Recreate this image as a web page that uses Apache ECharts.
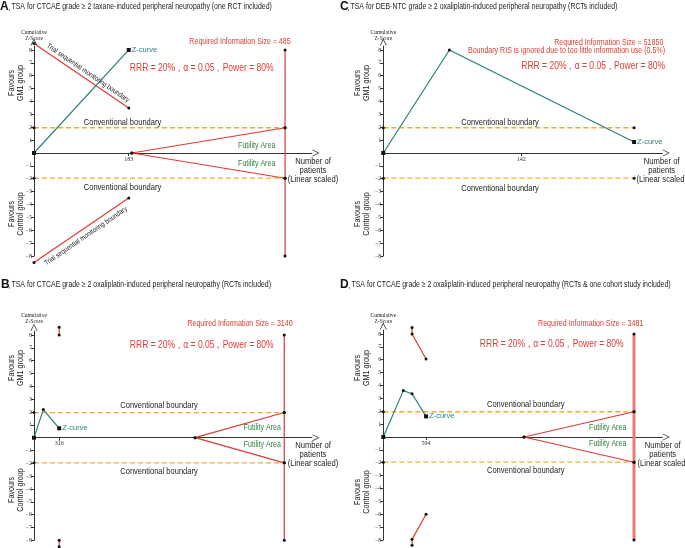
<!DOCTYPE html>
<html><head><meta charset="utf-8">
<script src="https://cdn.jsdelivr.net/npm/echarts@6/dist/echarts.min.js"></script>
<style>html,body{margin:0;padding:0;background:#fff}#c{width:685px;height:548px}</style>
</head><body><div id="c"></div>
<script>
// ---------- data ----------
const CONV = 1.96;
const Y_TICKS = [-8,-7,-6,-5,-4,-3,-2,-1,1,2,3,4,5,6,7,8];
const RIS_TOP = 8, RIS_BOTTOM = -8;

// Panel A
const A_xTick = [183];
const A_zX = [0, 183], A_zY = [0, 8];
const A_upX = [0, 183], A_upY = [8.5, 3.5];
const A_loX = [0, 183], A_loY = [-8.5, -3.5];
const A_ris = 485, A_futStart = 189;

// Panel B
const B_xTick = [316];
const B_zX = [0, 117, 316], B_zY = [0, 2.19, 0.73];
const B_upX = [316, 316], B_upY = [8.6, 8.0];
const B_loX = [316, 316], B_loY = [-8.0, -8.5];
const B_ris = 3140, B_futStart = 2020;

// Panel C
const C_xTick = [142];
const C_zX = [0, 68, 258], C_zY = [0, 8, 0.85];
const C_convEnd = 258;

// Panel D
const D_xTick = [594];
const D_zX = [0, 278, 399, 594], D_zY = [0, 3.6, 3.36, 1.6];
const D_upX = [399, 399, 594], D_upY = [8.5, 8.0, 6.05];
const D_loX = [399, 399, 594], D_loY = [-8.4, -7.95, -6.0];
const D_ris = 3481, D_futStart = 1954;

// ---------- styles ----------
const RED = '#dd3b33', TEAL = '#2b7f7c', ORANGE = '#f5a833', GREEN = '#2e7d3a', AX = '#333';
const SANS = 'Liberation Sans, Arial, sans-serif';
const SERIF = 'Liberation Serif, Times New Roman, serif';
const ARROW = 'path://M5,0 L0,10 L1.2,10 L5,2.2 L8.8,10 L10,10 Z';
const YMIN = -8, YMAX = 8.3;

const grids = [
  {left: 34, top: 46.1, width: 278, height: 209.9, xmax: 537},     // A
  {left: 34, top: 331.2, width: 278, height: 209.1, xmax: 3488},   // B
  {left: 383.3, top: 46.1, width: 279, height: 209.9, xmax: 287},  // C
  {left: 383.3, top: 330.1, width: 279, height: 209.9, xmax: 3874} // D
];
const xTicks = [A_xTick, B_xTick, C_xTick, D_xTick];

const option = {
  animation: false,
  grid: grids.map(g => ({left: g.left, top: g.top, width: g.width, height: g.height, outerBoundsMode: 'none', containLabel: false})),
  xAxis: grids.map((g, i) => ({
    type: 'value', gridIndex: i, min: 0, max: g.xmax, position: 'bottom',
    offset: -(0 - YMIN) / (YMAX - YMIN) * g.height,
    splitLine: {show: false},
    axisLine: {onZero: false, lineStyle: {color: AX, width: 1}, symbol: ['none', ARROW], symbolSize: [7, 7], symbolOffset: [0, 4]},
    axisTick: {show: true, length: 3, customValues: xTicks[i], lineStyle: {color: AX}},
    axisLabel: {show: true, customValues: xTicks[i], fontFamily: SERIF, fontSize: 6, color: AX, margin: 3}
  })),
  yAxis: grids.map((g, i) => ({
    type: 'value', gridIndex: i, min: YMIN, max: YMAX,
    splitLine: {show: false},
    axisLine: {onZero: false, lineStyle: {color: AX, width: 1}, symbol: ['none', ARROW], symbolSize: [7, 7], symbolOffset: [0, 4]},
    axisTick: {show: true, length: 3, customValues: Y_TICKS, lineStyle: {color: AX}},
    axisLabel: {show: true, customValues: Y_TICKS, fontFamily: SERIF, fontSize: 6, color: AX, margin: 2,
      formatter: v => String(v).replace('-', '\u2212')}
  })),
  series: [],
  graphic: []
};

function line(gi, xs, ys, o) {
  o = o || {};
  return {
    type: 'line', xAxisIndex: gi, yAxisIndex: gi, clip: false, silent: true, z: o.z || 3,
    data: xs.map((x, k) => [x, ys[k]]),
    symbol: o.symbol || 'circle', symbolSize: o.size != null ? o.size : 3, showSymbol: true,
    itemStyle: {color: o.markColor || '#111', borderWidth: 0},
    lineStyle: {color: o.color || RED, width: o.width || 1.2, type: o.dash ? [5, 3] : 'solid'}
  };
}
function zcurve(gi, xs, ys) {
  const s = line(gi, xs, ys, {color: TEAL, width: 1.2, symbol: 'circle', size: 3, z: 4});
  const n = xs.length - 1;
  s.data = s.data.map((d, k) => {
    if (k === n) return {value: d, symbol: 'rect', symbolSize: 4,
      label: {show: true, position: 'right', distance: 1, formatter: 'Z-curve', color: TEAL, fontFamily: SANS, fontSize: 7.5}};
    if (k === 0) return {value: d, symbol: 'rect', symbolSize: 4};
    return {value: d};
  });
  return s;
}
function conv(gi, end, o) {
  return [line(gi, [0, end], [CONV, CONV], Object.assign({color: ORANGE, dash: true, width: 1.3}, o || {})),
          line(gi, [0, end], [-CONV, -CONV], Object.assign({color: ORANGE, dash: true, width: 1.3}, o || {}))];
}
function futility(gi, start, ris) {
  return [line(gi, [start, ris], [0, CONV]), line(gi, [start, ris], [0, -CONV])];
}
function risLine(gi, ris, o) {
  return line(gi, [ris, ris], [RIS_TOP, RIS_BOTTOM], o);
}

const S = option.series;
// A
S.push(...conv(0, A_ris), ...futility(0, A_futStart, A_ris), risLine(0, A_ris),
  line(0, A_upX, A_upY), line(0, A_loX, A_loY), zcurve(0, A_zX, A_zY));
// B
S.push(...conv(1, B_ris), ...futility(1, B_futStart, B_ris), risLine(1, B_ris),
  line(1, B_upX, B_upY), line(1, B_loX, B_loY), zcurve(1, B_zX, B_zY));
// C
S.push(...conv(2, C_convEnd), zcurve(2, C_zX, C_zY));
// D
S.push(...conv(3, D_ris), ...futility(3, D_futStart, D_ris), risLine(3, D_ris, {width: 3, color: '#e57a78'}),
  line(3, D_upX, D_upY), line(3, D_loX, D_loY), zcurve(3, D_zX, D_zY));

// ---------- text ----------
const G = option.graphic;
function txt(x, y, text, o) {
  o = o || {};
  G.push({
    type: 'text', x: x, y: y, rotation: o.rot || 0, scaleX: o.sx != null ? o.sx : 0.82, z: 10, silent: true,
    style: {text: text, fill: o.color || '#222', font: (o.bold ? 'bold ' : '') + (o.size || 9) + 'px ' + (o.family || SANS),
      align: o.align || 'center', verticalAlign: o.va || 'middle', lineHeight: o.lh || undefined}
  });
}
const SQ = '\u2265';
const panels = [
  {L: 'A', lx: 0, ty: 7, tx: 11.5, title: 'TSA for CTCAE grade ' + SQ + ' 2 taxane-induced peripheral neuropathy (one RCT included)'},
  {L: 'B', lx: 1, ty: 285, tx: 11.5, title: 'TSA for CTCAE grade ' + SQ + ' 2 oxaliplatin-induced peripheral neuropathy (RCTs included)'},
  {L: 'C', lx: 340, ty: 7, tx: 350.5, title: 'TSA for DEB-NTC grade ' + SQ + ' 2 oxaliplatin-induced peripheral neuropathy (RCTs included)'},
  {L: 'D', lx: 340, ty: 285, tx: 351.5, title: 'TSA for CTCAE grade ' + SQ + ' 2 oxaliplatin-induced peripheral neuropathy (RCTs & one cohort study included)'}
];
panels.forEach(p => {
  txt(p.lx, p.ty, p.L, {align: 'left', bold: true, size: 12, sx: 1, color: '#111'});
  txt(p.tx - 3, p.ty + 1, ',', {align: 'left', size: 8, sx: 1});
  txt(p.tx, p.ty, p.title, {align: 'left', size: 8.6, sx: 0.805, color: '#222'});
});

// per-panel annotations
function common(ox, oy, o) {
  txt(ox, oy + 33, 'Cumulative', {size: 5.5, family: SERIF, sx: 1});
  txt(ox, oy + 38.5, 'Z-Score', {size: 5.5, family: SERIF, sx: 1});
  txt(o.favX, oy + o.gmY, 'Favours\nGM1 group', {rot: Math.PI / 2, size: 9, lh: 9, sx: 0.8});
  txt(o.favX, oy + o.ctY, 'Favours\nControl group', {rot: Math.PI / 2, size: 9, lh: 9, sx: 0.8});
  txt(o.convX, oy + o.convU, 'Conventional boundary', {size: 9.2});
  txt(o.convX, oy + o.convL, 'Conventional boundary', {size: 9.2});
  txt(o.npX, oy + o.npY, 'Number of\npatients\n(Linear scaled)', {size: 9, lh: 8.6, sx: 0.85});
}
// A
common(34, 0, {favX: 16, gmY: 83, ctY: 214, convX: 122.5, convU: 122.7, convL: 187.3, npX: 313, npY: 170.5});
txt(240, 41.7, 'Required Information Size = 485', {color: RED, size: 8.6});
txt(201.7, 67.7, 'RRR = 20%\uFF0C\u03B1 = 0.05\uFF0CPower = 80%', {color: RED, size: 10.4});
txt(256.7, 145.7, 'Futility Area', {color: GREEN, size: 8.6});
txt(256.7, 163.3, 'Futility Area', {color: GREEN, size: 8.6});
txt(88, 73, 'Trial sequential monitoring boundary', {rot: -0.6, size: 7.2, sx: 0.85});
txt(86, 236, 'Trial sequential monitoring boundary', {rot: 0.6, size: 7.2, sx: 0.85});
// B
common(34, 283, {favX: 16, gmY: 85, ctY: 207, convX: 159, convU: 122, convL: 188, npX: 313, npY: 171.5});
txt(240, 324, 'Required Information Size = 3140', {color: RED, size: 8.6});
txt(201.7, 345, 'RRR = 20%\uFF0C\u03B1 = 0.05\uFF0CPower = 80%', {color: RED, size: 10.4});
txt(262.3, 427.7, 'Futility Area', {color: GREEN, size: 8.6});
txt(262.3, 444.3, 'Futility Area', {color: GREEN, size: 8.6});
// C
common(383.3, 0, {favX: 362, gmY: 83, ctY: 214, convX: 500, convU: 122.7, convL: 188.3, npX: 661.7, npY: 170.5});
txt(663.3, 42.3, 'Required Information Size = 51850', {color: RED, size: 8.6, align: 'right'});
txt(665, 51, 'Boundary RIS is ignored due to too little information use (0.5%)', {color: RED, size: 8.6, align: 'right'});
txt(665, 65.7, 'RRR = 20%\uFF0C\u03B1 = 0.05\uFF0CPower = 80%', {color: RED, size: 10.4, align: 'right'});
// D
common(383.3, 283, {favX: 362, gmY: 85, ctY: 209, convX: 525.7, convU: 121, convL: 187, npX: 662.7, npY: 171.5});
txt(590.7, 324, 'Required Information Size = 3481', {color: RED, size: 8.6});
txt(551.7, 344, 'RRR = 20%\uFF0C\u03B1 = 0.05\uFF0CPower = 80%', {color: RED, size: 10.4});
txt(607.7, 427.7, 'Futility Area', {color: GREEN, size: 8.6});
txt(607.7, 444, 'Futility Area', {color: GREEN, size: 8.6});

const chart = echarts.init(document.getElementById('c'), null, {renderer: 'canvas'});
chart.setOption(option);
</script></body></html>
